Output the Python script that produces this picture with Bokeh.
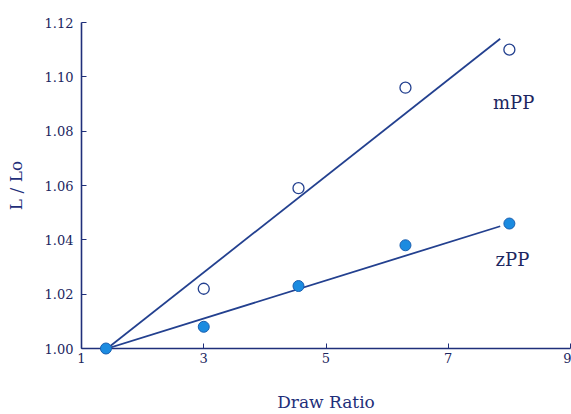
from bokeh.plotting import figure
from bokeh.models import Range1d, FixedTicker, Label
from bokeh.embed import file_html
from bokeh.resources import INLINE

# Measured dimensional change vs. draw ratio
draw_ratio = [1.4, 3.0, 4.55, 6.3, 8.0]
mpp_ratio = [1.000, 1.022, 1.059, 1.096, 1.110]
zpp_ratio = [1.000, 1.008, 1.023, 1.038, 1.046]

# Trend lines (end points of each linear fit)
fit_x = [1.42, 7.85]
mpp_fit = [1.000, 1.114]
zpp_fit = [1.000, 1.045]

x_ticks = [1, 3, 5, 7, 9]
y_ticks = [1.00, 1.02, 1.04, 1.06, 1.08, 1.10, 1.12]
y_tick_labels = ["1.00", "1.02", "1.04", "1.06", "1.08", "1.10", "1.12"]

NAVY = "#1f2f7a"
LINE = "#23408f"
DOT = "#1b8be0"
TEXT = "#1c2660"
SERIF = "'DejaVu Serif', serif"

p = figure(width=571, height=414, output_backend="svg", toolbar_location=None,
           x_range=Range1d(1, 9), y_range=Range1d(1.0, 1.12),
           min_border_left=81, min_border_right=1, min_border_top=22, min_border_bottom=65)
p.outline_line_color = None
p.grid.visible = False
p.background_fill_color = "white"

for ax in (p.xaxis[0], p.yaxis[0]):
    ax.axis_line_color = NAVY
    ax.axis_line_width = 1.6
    ax.major_tick_line_color = NAVY
    ax.major_tick_in = 5
    ax.major_tick_out = 0
    ax.minor_tick_line_color = None
    ax.major_label_text_font = SERIF
    ax.major_label_text_font_size = "13px"
    ax.major_label_text_color = TEXT
    ax.axis_label_text_font = SERIF
    ax.axis_label_text_font_size = "17px"
    ax.axis_label_text_font_style = "normal"
    ax.axis_label_text_color = NAVY

p.xaxis.ticker = FixedTicker(ticks=x_ticks)
p.yaxis.ticker = FixedTicker(ticks=y_ticks)
p.yaxis.major_label_overrides = {t: s for t, s in zip(y_ticks, y_tick_labels)}
p.xaxis.axis_label = "Draw Ratio"
p.yaxis.axis_label = "L / Lo"
p.xaxis.major_label_standoff = 4
p.xaxis.axis_label_standoff = 26
p.yaxis.major_label_standoff = 8
p.yaxis.axis_label_standoff = 16

p.line(fit_x, mpp_fit, line_color=LINE, line_width=1.8)
p.line(fit_x, zpp_fit, line_color=LINE, line_width=1.8)

p.scatter(draw_ratio[1:], mpp_ratio[1:], marker="circle", size=11,
          fill_color="white", line_color=LINE, line_width=1.3, level="overlay")
p.scatter(draw_ratio, zpp_ratio, marker="circle", size=11,
          fill_color=DOT, line_color="#1a5fb0", line_width=1, level="overlay")

p.add_layout(Label(x=8.07, y=1.0906, text="mPP", text_font=SERIF, text_font_size="18px",
                   text_color=TEXT, text_align="center", text_baseline="middle"))
p.add_layout(Label(x=8.05, y=1.0327, text="zPP", text_font=SERIF, text_font_size="18px",
                   text_color=TEXT, text_align="center", text_baseline="middle"))

open("out.html", "w").write(file_html(p, INLINE))
